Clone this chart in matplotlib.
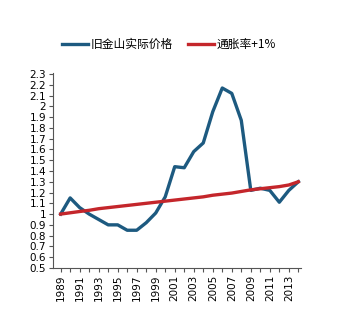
import numpy as np
import matplotlib.pyplot as plt

plt.rcParams['font.family'] = ['Noto Sans CJK SC', 'DejaVu Sans']

years = list(range(1989, 2015))
sf_price = [1.00, 1.15, 1.06, 1.00, 0.95, 0.90, 0.90, 0.85, 0.85, 0.92,
            1.01, 1.16, 1.44, 1.43, 1.58, 1.66, 1.95, 2.17, 2.12, 1.87,
            1.22, 1.24, 1.22, 1.11, 1.22, 1.30]
inflation = [1.00, 1.012, 1.024, 1.035, 1.05, 1.06, 1.07, 1.08, 1.09, 1.10,
             1.11, 1.12, 1.13, 1.14, 1.15, 1.16, 1.175, 1.185, 1.195, 1.21,
             1.225, 1.235, 1.245, 1.255, 1.27, 1.30]
ytick_vals = np.round(np.arange(0.5, 2.31, 0.1), 1)
ytick_labels = ['1' if v == 1 else ('2' if v == 2 else f'{v:.1f}') for v in ytick_vals]

fig = plt.figure(figsize=(3.56, 3.30), dpi=100)
ax = fig.add_axes([0.149, 0.188, 0.697, 0.591])

ax.plot(years, sf_price, color='#1d5a80', lw=2.4, label='旧金山实际价格', solid_joinstyle='round')
ax.plot(years, inflation, color='#c4262b', lw=2.4, label='通胀率+1%')

ax.set_xlim(1988.2, 2014.3)
ax.set_ylim(0.5, 2.31)
ax.set_yticks(ytick_vals)
ax.set_yticklabels(ytick_labels, family='DejaVu Sans', fontsize=7.5)
ax.set_xticks(years)
ax.set_xticklabels([str(y) if y % 2 == 1 else '' for y in years],
                   rotation=90, family='DejaVu Sans', fontsize=7.5)
ax.tick_params(length=3, width=0.8, color='#555555', pad=2)
for s in ['top', 'right']:
    ax.spines[s].set_visible(False)
for s in ['left', 'bottom']:
    ax.spines[s].set_color('#555555')
    ax.spines[s].set_linewidth(0.8)

fig.legend(loc='center', bbox_to_anchor=(0.475, 0.865), ncol=2, frameon=False,
           fontsize=8.5, handlelength=2.2, columnspacing=1.3, handletextpad=0.2)

fig.savefig('out.png', dpi=100)
